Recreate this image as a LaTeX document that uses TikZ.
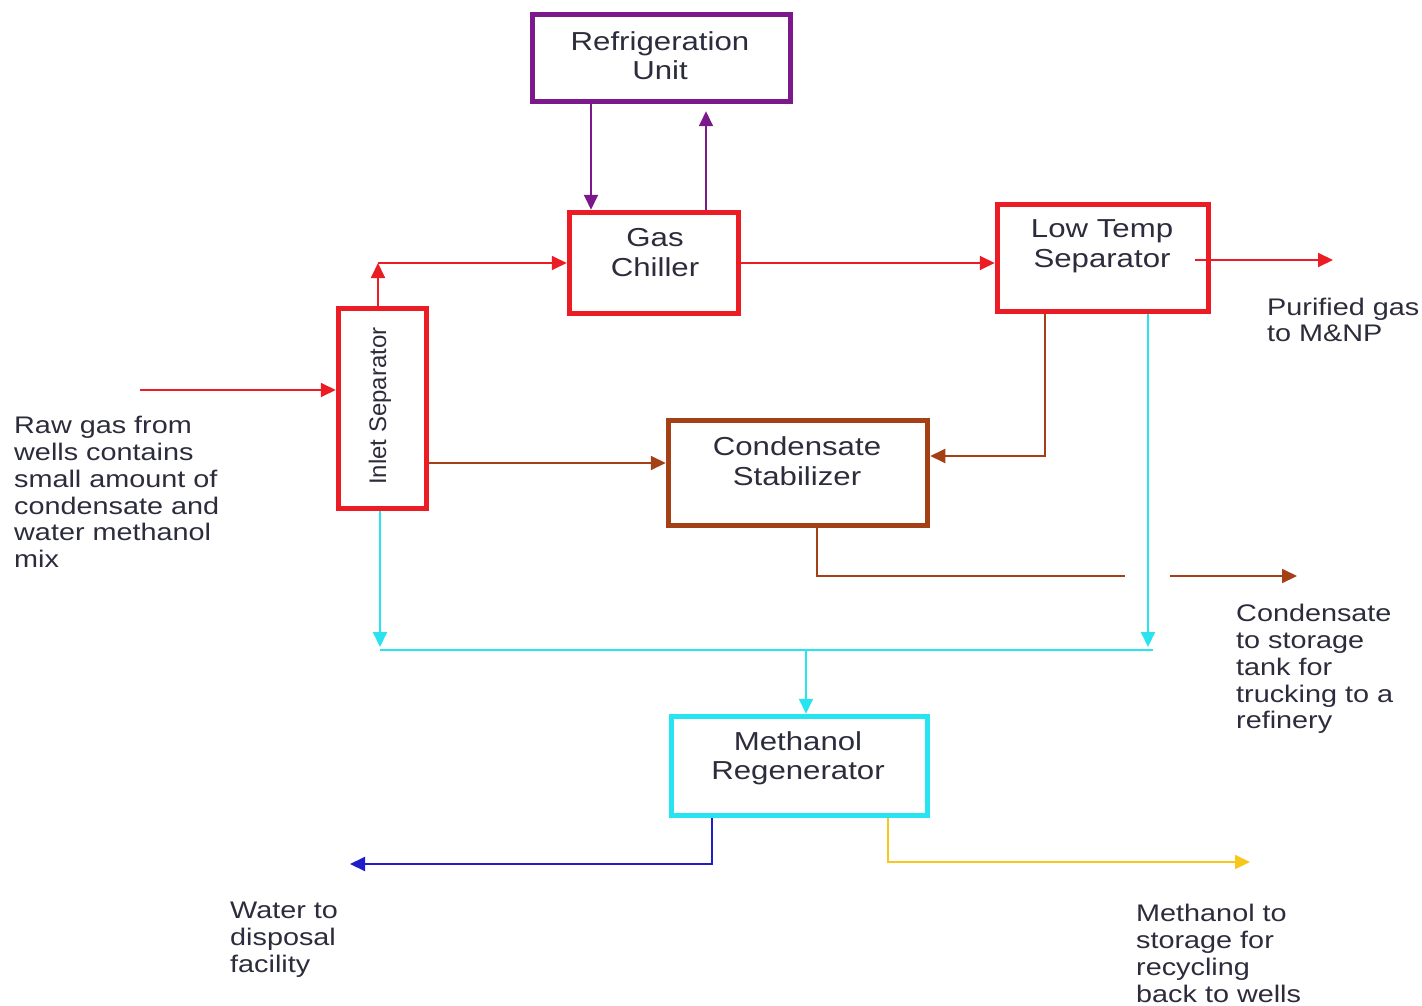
\documentclass[tikz,border=0pt]{standalone}
\usepackage{fontspec}
\setmainfont{Liberation Sans}[FakeStretch=1.2]
\newfontfamily\rotfont{Liberation Sans}
\usetikzlibrary{arrows.meta,calc}
\definecolor{cred}{RGB}{236,28,36}
\definecolor{cpurple}{RGB}{122,24,140}
\definecolor{cbrown}{RGB}{164,64,22}
\definecolor{ccyan}{RGB}{40,228,240}
\definecolor{cblue}{RGB}{30,30,200}
\definecolor{cyellow}{RGB}{246,200,30}
\definecolor{ctext}{RGB}{44,44,60}
\begin{document}
\begin{tikzpicture}[x=1pt,y=-1pt,
  box/.style={draw, line width=5.5pt, inner sep=0pt},
  boxtext/.style={text=ctext, align=center, inner sep=0pt, font=\fontsize{26}{29.5}\selectfont},
  sidetext/.style={text=ctext, align=left, anchor=west, inner sep=0pt, font=\fontsize{24}{26.8}\selectfont},
  conn/.style={line width=2pt, -{Triangle[length=15pt,width=14pt]}},
  plain/.style={line width=2pt}
]
\useasboundingbox (0,0) rectangle (1422,1006);

% boxes
\node[box, draw=cpurple, minimum width=258pt, minimum height=87pt] (ref) at (661.5,58) {};
\node[box, draw=cred, minimum width=169pt, minimum height=101pt] (gc) at (654,263) {};
\node[box, draw=cred, minimum width=211pt, minimum height=107pt] (lts) at (1103,258) {};
\node[box, draw=cred, minimum width=88pt, minimum height=200pt] (is) at (382.5,408.5) {};
\node[box, draw=cbrown, minimum width=259pt, minimum height=105pt] (cs) at (798,473) {};
\node[box, draw=ccyan, minimum width=256pt, minimum height=99pt] (mr) at (799.5,766) {};

% box texts
\node[boxtext] (reft) at (660,55.5) {Refrigeration\\Unit};
\node[boxtext] (gct) at (655,252.5) {Gas\\Chiller};
\node[boxtext] (ltst) at (1102,246.5) {Low Temp\\Separator};
\node[boxtext] (cst) at (797,461) {Condensate\\Stabilizer};
\node[boxtext] (mrt) at (798,758.5) {Methanol\\Regenerator};
\node[text=ctext, inner sep=0pt, rotate=90, font=\rotfont\fontsize{24}{29}\selectfont] (ist) at (380,406) {Inlet Separator};

% side texts
\node[sidetext] (raw) at (14,492) {Raw gas from\\wells contains\\small amount of\\condensate and\\water methanol\\mix};
\node[sidetext] (pur) at (1267,320) {Purified gas\\to M\&NP};
\node[sidetext] (cond) at (1236,669) {Condensate\\to storage\\tank for\\trucking to a\\refinery};
\node[sidetext] (wat) at (230,940) {Water to\\disposal\\facility};
\node[sidetext] (meth) at (1136,953.5) {Methanol to\\storage for\\recycling\\back to wells};

% coordinates
\coordinate (rawin) at (140,390);
\coordinate (j1) at (378,263);
\coordinate (p1) at (591,0);
\coordinate (p2) at (706,0);
\coordinate (ltsout) at (1195,260);
\coordinate (pg) at (1333,260);
\coordinate (b1) at (0,463);
\coordinate (b2) at (1045,456);
\coordinate (b4) at (817,576);
\coordinate (b5) at (1125,576);
\coordinate (b6) at (1170,576);
\coordinate (b7) at (1297,576);
\coordinate (c1) at (380,647);
\coordinate (c2) at (1148,647);
\coordinate (c3) at (380,650);
\coordinate (c4) at (1153,650);
\coordinate (c5) at (806,650);
\coordinate (w1) at (712,864);
\coordinate (w2) at (350,864);
\coordinate (y1) at (888,862);
\coordinate (y2) at (1250,862);

% red
\draw[conn, cred] (rawin) -- (rawin -| is.west);
\draw[conn, cred] (is.north -| j1) -- (j1);
\draw[conn, cred] (j1) -- (j1 -| gc.west);
\draw[conn, cred] (gc.east) -- (gc.east -| lts.west);
\draw[conn, cred] (ltsout) -- (pg);

% purple
\draw[conn, cpurple] (ref.south -| p1) -- (gc.north -| p1);
\draw[conn, cpurple] (gc.north -| p2) -- ($(ref.south -| p2)+(0,7)$);

% brown
\draw[conn, cbrown] (b1 -| is.east) -- (b1 -| cs.west);
\draw[conn, cbrown] (lts.south -| b2) -- (b2) -- (b2 -| cs.east);
\draw[plain, cbrown] (cs.south -| b4) -- (b4) -- (b5);
\draw[conn, cbrown] (b6) -- (b7);

% cyan
\draw[conn, ccyan] (is.south -| c1) -- (c1);
\draw[conn, ccyan] (lts.south -| c2) -- (c2);
\draw[plain, ccyan, line width=2.5pt] (c3) -- (c4);
\draw[conn, ccyan] (c5) -- (mr.north -| c5);

% blue and yellow
\draw[conn, cblue] (mr.south -| w1) -- (w1) -- (w2);
\draw[conn, cyellow] (mr.south -| y1) -- (y1) -- (y2);
\end{tikzpicture}
\end{document}
